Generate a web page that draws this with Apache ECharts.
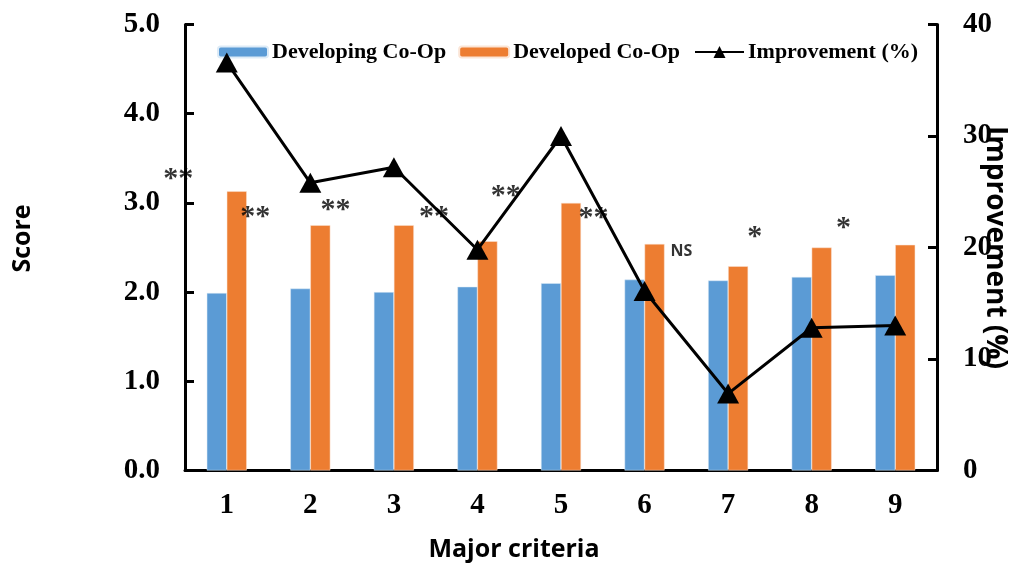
<!DOCTYPE html>
<html>
<head>
<meta charset="utf-8">
<script src="https://cdn.jsdelivr.net/npm/echarts@6/dist/echarts.min.js"></script>
<style>html,body{margin:0;padding:0;background:#fff;}#c{width:1010px;height:570px;}</style>
</head>
<body>
<div id="c"></div>
<script>
var categories = ['1','2','3','4','5','6','7','8','9'];
var developing = [1.99, 2.04, 2.00, 2.06, 2.10, 2.14, 2.13, 2.17, 2.19];
var developed = [3.13, 2.75, 2.75, 2.57, 3.00, 2.54, 2.29, 2.50, 2.53];
var improvement = [36.6, 25.8, 27.2, 19.8, 30.0, 16.1, 6.9, 12.8, 13.0];
var scoreTicks = [0, 1, 2, 3, 4, 5];
var improvementTicks = [0, 10, 20, 30, 40];
// significance annotations: [category position, score level, text]
var sigX = [-0.58, 0.34, 1.30, 2.48, 3.34, 4.39, 5.44, 6.32, 7.38];
var sigY = [3.27, 2.84, 2.92, 2.84, 3.07, 2.83, 2.46, 2.62, 2.72];
var sigText = ['**', '**', '**', '**', '**', '**', 'NS', '*', '*'];

var serif = '"Liberation Serif", "Times New Roman", serif';
var sans = '"Open Sans", "Noto Sans", sans-serif';

var chart = echarts.init(document.getElementById('c'));
var sigData = sigX.map(function (x, i) {
  var isNS = sigText[i] === 'NS';
  return {
    value: [x, sigY[i]], name: sigText[i],
    label: isNS ? { fontFamily: sans, fontSize: 16 } : { fontFamily: serif, fontSize: 30 }
  };
});
var legendText = { fontFamily: serif, fontWeight: 'bold', fontSize: 22, color: '#000', padding: [0, 0, 0, -1] };

chart.setOption({
  animation: false,
  backgroundColor: '#fff',
  grid: { left: 185, right: 73, top: 24.5, bottom: 99.5, containLabel: false, outerBoundsMode: 'none' },
  legend: [{
    left: 212, top: 36,
    itemWidth: 50, itemHeight: 11, itemGap: 12,
    textStyle: legendText,
    data: [{ name: 'Developing Co-Op' }, { name: 'Developed Co-Op' }]
  }, {
    left: 689, top: 36,
    itemWidth: 49, itemHeight: 15,
    textStyle: legendText,
    data: [{ name: 'Improvement (%)' }]
  }],
  xAxis: [{
    type: 'category', data: categories,
    axisLine: { lineStyle: { color: '#000', width: 3 } },
    axisTick: { show: false },
    axisLabel: { fontFamily: serif, fontWeight: 'bold', fontSize: 29, color: '#000', margin: 21 },
    name: 'Major criteria', nameLocation: 'middle', nameGap: 67, nameMoveOverlap: false,
    nameTextStyle: { fontFamily: sans, fontWeight: 'bold', fontSize: 25, color: '#000', padding: [0, 94, 0, 0] }
  }, {
    type: 'value', min: -0.5, max: 8.5, show: false
  }],
  yAxis: [{
    type: 'value', min: scoreTicks[0], max: scoreTicks[scoreTicks.length - 1], interval: 1,
    axisLine: { show: true, onZero: false, lineStyle: { color: '#000', width: 3 } },
    axisTick: { show: true, inside: true, length: 9, lineStyle: { color: '#000', width: 3 } },
    splitLine: { show: false },
    axisLabel: { fontFamily: serif, fontWeight: 'bold', fontSize: 29, color: '#000', margin: 25,
      formatter: function (v) { return v.toFixed(1); } },
    name: 'Score', nameLocation: 'middle', nameGap: 150, nameMoveOverlap: false,
    nameTextStyle: { fontFamily: sans, fontWeight: 'bold', fontSize: 25, color: '#000', padding: [0, 0, 0, 18] }
  }, {
    type: 'value', min: improvementTicks[0], max: improvementTicks[improvementTicks.length - 1], interval: 10, position: 'right',
    axisLine: { show: true, onZero: false, lineStyle: { color: '#000', width: 3 } },
    axisTick: { show: true, inside: true, length: 9, lineStyle: { color: '#000', width: 3 } },
    splitLine: { show: false },
    axisLabel: { fontFamily: serif, fontWeight: 'bold', fontSize: 29, color: '#000', margin: 26 },
    name: 'Improvement (%)', nameLocation: 'middle', nameGap: 44, nameRotate: -90, nameMoveOverlap: false,
    nameTextStyle: { fontFamily: sans, fontWeight: 'bold', fontSize: 28, color: '#000' }
  }],
  series: [{
    name: 'Developing Co-Op', type: 'bar', data: developing, barWidth: 20, barGap: '0%',
    itemStyle: { color: '#5B9BD5', borderColor: '#DDEBF7', borderWidth: 0.5 }
  }, {
    name: 'Developed Co-Op', type: 'bar', data: developed, barWidth: 20, barGap: '0%',
    itemStyle: { color: '#ED7D31', borderColor: '#FBE5D6', borderWidth: 0.5 }
  }, {
    name: 'Improvement (%)', type: 'line', yAxisIndex: 1, data: improvement,
    symbol: 'triangle', symbolSize: [22, 20],
    lineStyle: { color: '#000', width: 3 },
    itemStyle: { color: '#000' }, z: 5
  }, {
    name: 'sig', type: 'scatter', xAxisIndex: 1, yAxisIndex: 0, data: sigData,
    symbolSize: 0, silent: true, clip: false,
    label: { show: true, position: 'inside', color: '#000', fontWeight: 'bold',
      formatter: function (p) { return p.name; } },
    z: 6
  }]
});
</script>
</body>
</html>
